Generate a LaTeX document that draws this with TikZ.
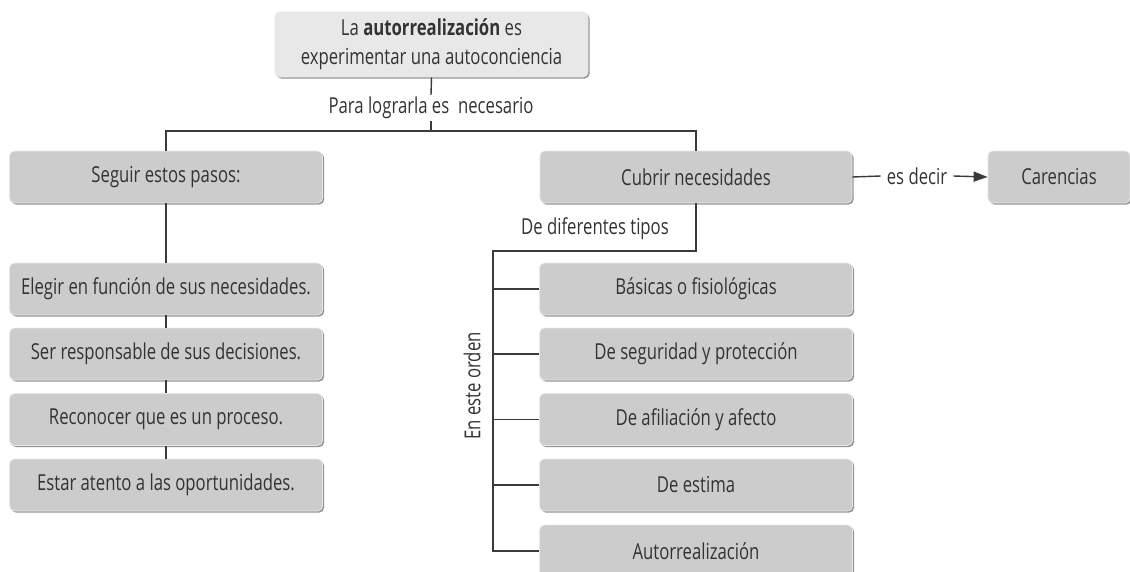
\documentclass[tikz,border=0pt]{standalone}
\usepackage{fontspec}
\setmainfont{Open Sans}[FakeStretch=0.76]
\usetikzlibrary{shadows,arrows.meta}
\definecolor{boxfill}{HTML}{CCCCCC}
\definecolor{topfill}{HTML}{E8E8E8}
\definecolor{linec}{HTML}{3A3A3A}
\definecolor{txt}{HTML}{333333}
\begin{document}
\begin{tikzpicture}[x=1pt,y=-1pt,
  boxs/.style={rectangle, rounded corners=5pt, fill=boxfill, draw=black!9, line width=0.8pt,
    minimum width=313pt, minimum height=52pt, inner sep=0pt, text=txt,
    font=\fontsize{22}{26}\selectfont,
    drop shadow={shadow xshift=1.6pt, shadow yshift=-1.6pt, fill=black!42, opacity=1}},
  conn/.style={draw=linec, line width=1.4pt},
  lbl/.style={text=txt, font=\fontsize{22}{26}\selectfont, inner sep=2pt}]
\useasboundingbox (0,0) rectangle (1130,571);

% top
\node[boxs, fill=topfill, minimum width=313pt, minimum height=65pt, align=center,
      font=\fontsize{22}{29}\selectfont] (top) at (431.5,44.5)
  {La \textbf{autorrealización} es\\experimentar una autoconciencia};
\node[lbl] (para) at (431,108) {Para lograrla es \ necesario};
\coordinate (j1) at (431,131);

% left branch
\node[boxs] (seguir) at (166,177) {Seguir estos pasos:};
\node[boxs] (e1) at (166,289) {Elegir en función de sus necesidades.};
\node[boxs] (e2) at (166,354) {Ser responsable de sus decisiones.};
\node[boxs] (e3) at (166,419.5) {Reconocer que es un proceso.};
\node[boxs] (e4) at (166,485) {Estar atento a las oportunidades.};

% right branch
\node[boxs, minimum width=312pt] (cubrir) at (696,177) {Cubrir necesidades};
\node[lbl, inner xsep=6pt] (esd) at (917,176) {es decir};
\node[boxs, minimum width=142pt] (car) at (1059,177) {Carencias};
\node[lbl] (tipos) at (595,229) {De diferentes tipos};
\coordinate (j3) at (493,251);
\node[boxs] (r1) at (696,289) {Básicas o fisiológicas};
\node[boxs] (r2) at (696,354) {De seguridad y protección};
\node[boxs] (r3) at (696,419.5) {De afiliación y afecto};
\node[boxs] (r4) at (696,485) {De estima};
\node[boxs] (r5) at (696,551) {Autorrealización};
\node[lbl, rotate=90] (orden) at (472,386) {En este orden};

% connectors
\draw[conn] (top.south) -- (para.north);
\draw[conn] (para.south) -- (j1);
\draw[conn] (seguir.north) |- (j1) -| (cubrir.north);
\draw[conn] (seguir.south) -- (e1.north);
\draw[conn] (e1.south) -- (e2.north);
\draw[conn] (e2.south) -- (e3.north);
\draw[conn] (e3.south) -- (e4.north);
\draw[conn] (cubrir.east) -- (esd.west);
\draw[conn, -{Triangle[length=14pt,width=10pt]}] (esd.east) -- (car.west);
\draw[conn] (cubrir.south) |- (j3) |- (r5.west);
\draw[conn] (j3 |- r1.west) -- (r1.west);
\draw[conn] (j3 |- r2.west) -- (r2.west);
\draw[conn] (j3 |- r3.west) -- (r3.west);
\draw[conn] (j3 |- r4.west) -- (r4.west);
\end{tikzpicture}
\end{document}
